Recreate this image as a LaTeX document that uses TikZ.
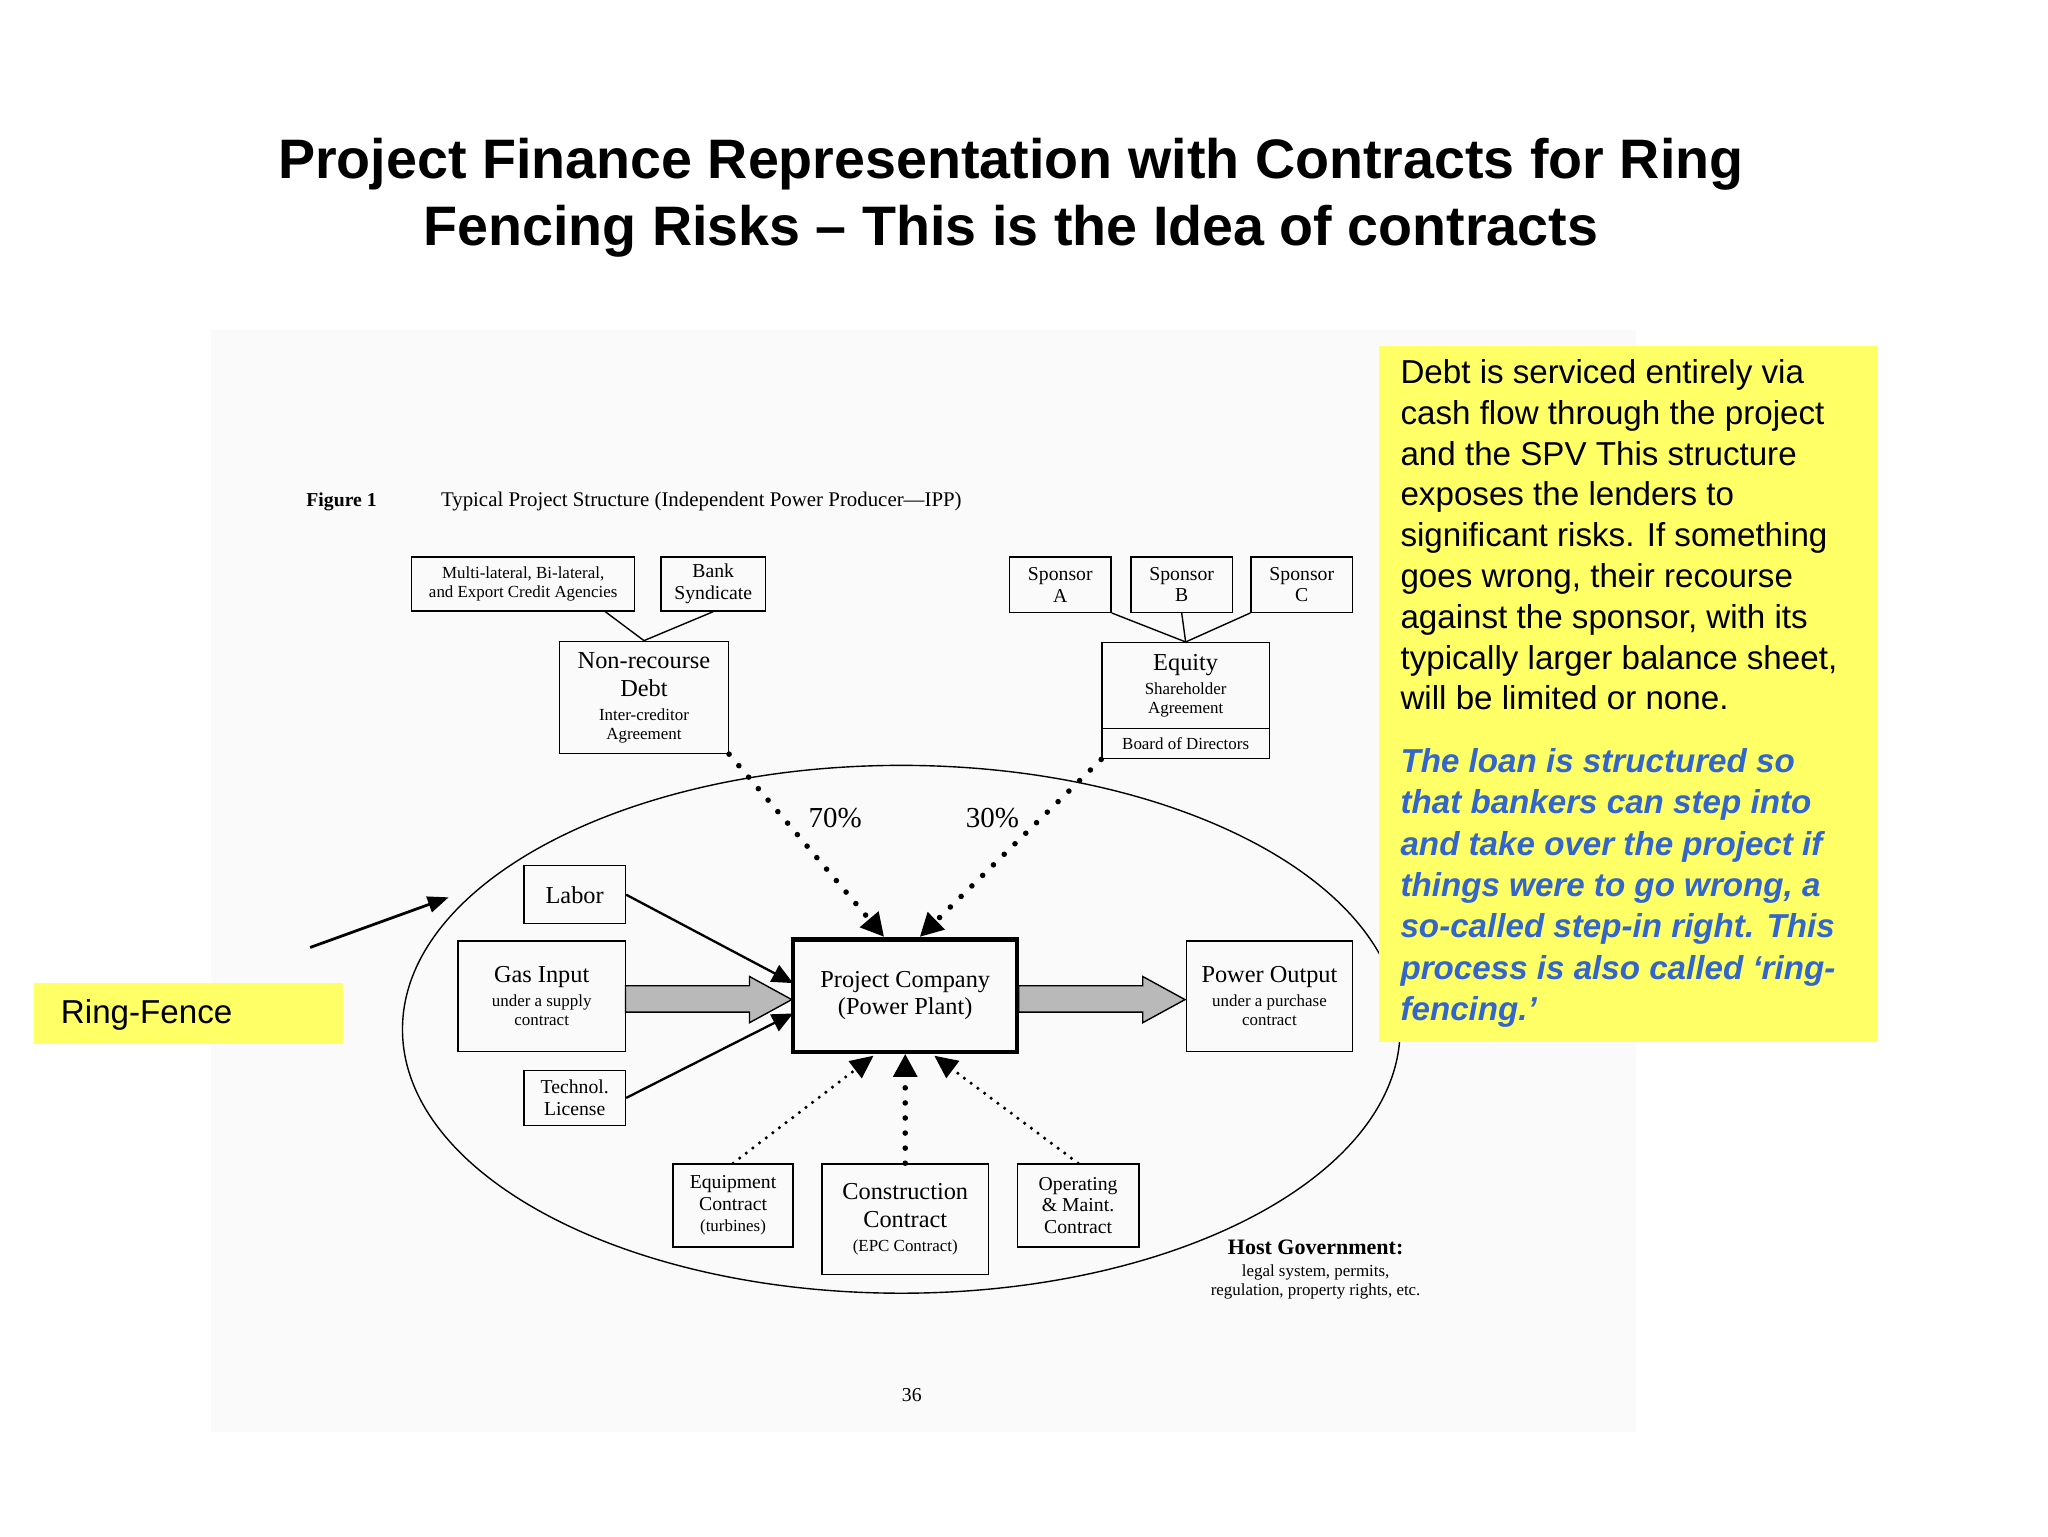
\documentclass[tikz,border=0pt]{standalone}
\usepackage{fontspec}
\setmainfont{Liberation Serif}
\newfontfamily\arialf{Liberation Sans}
\usetikzlibrary{arrows.meta,calc}
\definecolor{ylw}{HTML}{FFFF66}
\definecolor{blu}{HTML}{3366CC}
\newcommand\bigf{\fontsize{10.5}{11.5}\selectfont}
\newcommand\smf{\fontsize{7.3}{8.2}\selectfont}
\tikzset{
 bx/.style={draw,line width=0.6pt,align=center,inner sep=1pt},
 sm/.style={font=\smf},
 md/.style={font=\fontsize{8.5}{9.4}\selectfont},
 dotarr/.style={line width=2.4pt,dash pattern=on 0pt off 6.5pt,line cap=round,-{Triangle[length=10pt,width=10pt]}},
 thinarr/.style={line width=1.5pt,dash pattern=on 0pt off 3.6pt,line cap=round,-{Triangle[length=10pt,width=9pt]}},
 solarr/.style={line width=1pt,-{Triangle[length=9pt,width=8pt]}},
}
\begin{document}
\begin{tikzpicture}[x=0.02cm,y=-0.02cm]
\useasboundingbox (0,0) rectangle (1552,1164);
\fill[gray!4] (160,250) rectangle (1240,1085);
\node[font=\arialf\bfseries\fontsize{24}{29}\selectfont,align=center] (title) at (766,150) {Project Finance Representation with Contracts for Ring\\Fencing Risks – This is the Idea of contracts};
\node[anchor=west,font=\bfseries\fontsize{8.5}{10}\selectfont] (fig) at (226,380) {Figure 1};
\node[anchor=west,font=\fontsize{9}{10}\selectfont] (cap) at (328,380) {Typical Project Structure (Independent Power Producer---IPP)};
\draw[line width=0.6pt] (683,780) ellipse [x radius=378,y radius=200];
\node[bx,sm,minimum width=3.38cm,minimum height=0.82cm] (multi) at (396.5,442.5) {Multi-lateral, Bi-lateral,\\and Export Credit Agencies};
\node[bx,md,minimum width=1.58cm,minimum height=0.82cm] (bank) at (540.5,442.5) {Bank\\Syndicate};
\node[bx,sm,minimum width=2.56cm,minimum height=1.7cm] (nr) at (488,528.5) {\bigf Non-recourse\\[4pt]\bigf Debt\\[2pt]Inter-creditor\\Agreement};
\node[bx,md,minimum width=1.54cm,minimum height=0.84cm] (sa) at (803.5,443) {Sponsor\\A};
\node[bx,md,minimum width=1.54cm,minimum height=0.84cm] (sb) at (895.5,443) {Sponsor\\B};
\node[bx,md,minimum width=1.54cm,minimum height=0.84cm] (sc) at (986.5,443) {Sponsor\\C};
\node[bx,sm,minimum width=2.54cm,minimum height=1.3cm] (eq) at (898.5,519.5) {\bigf Equity\\[2pt]Shareholder\\Agreement};
\node[bx,sm,minimum width=2.54cm,minimum height=0.46cm] (board) at (898.5,563.5) {Board of Directors};
\node[bx,font=\bigf,minimum width=1.54cm,minimum height=0.88cm] (labor) at (435.5,678) {Labor};
\node[bx,sm,minimum width=2.54cm,minimum height=1.68cm] (gas) at (410.5,755) {\bigf Gas Input\\[2pt]under a supply\\contract};
\node[bx,md,minimum width=1.54cm,minimum height=0.84cm] (tech) at (435.5,832) {Technol.\\License};
\node[draw,line width=1.8pt,align=center,font=\bigf,minimum width=3.4cm,minimum height=1.7cm] (pc) at (686,754.5) {Project Company\\(Power Plant)};
\node[bx,sm,minimum width=2.52cm,minimum height=1.68cm] (po) at (962,755) {\bigf Power Output\\[2pt]under a purchase\\contract};
\node[bx,md,minimum width=1.82cm,minimum height=1.26cm] (equip) at (555.5,913.5) {Equipment\\Contract\\\smf (turbines)};
\node[bx,sm,minimum width=2.52cm,minimum height=1.68cm] (constr) at (686,924) {\bigf Construction\\[4pt]\bigf Contract\\[2pt](EPC Contract)};
\node[bx,md,minimum width=1.84cm,minimum height=1.26cm] (oper) at (817,913.5) {Operating\\\& Maint.\\Contract};
\draw[line width=0.6pt] (458,463) -- (nr.north) -- (bank.south);
\draw[line width=0.6pt] (sa.south east) -- (eq.north) -- (sb.south);
\draw[line width=0.6pt] (sc.south west) -- (eq.north);
\draw[dotarr] (nr.south east) -- (670,710);
\draw[dotarr] (board.south west) -- (697,710);
\node[font=\fontsize{12.5}{13}\selectfont] (p70) at (633,620) {70\%};
\node[font=\fontsize{12.5}{13}\selectfont] (p30) at (752,620) {30\%};
\draw[thinarr] (equip.north) -- (662,800);
\draw[dotarr] (constr.north) -- (pc.south);
\draw[thinarr] (oper.north) -- (708,800);
\draw[solarr] (labor.east) -- (601,745);
\draw[solarr] (tech.east) -- (601,768);
\draw[fill=gray!55,line width=0.6pt] (474,747) -- (568,747) -- (568,740) -- (600,757.5) -- (568,775) -- (568,767) -- (474,767) -- cycle;
\draw[fill=gray!55,line width=0.6pt] (772,747) -- (866,747) -- (866,740) -- (898,757.5) -- (866,775) -- (866,767) -- (772,767) -- cycle;
\node[align=center,font=\smf] (host) at (997,962) {\bfseries\fontsize{9.5}{10.5}\selectfont Host Government:\\[1pt]legal system, permits,\\regulation, property rights, etc.};
\node[font=\fontsize{8.5}{10}\selectfont] (pg) at (691,1057) {36};
\fill[ylw] (1045,262) rectangle (1423,790);
\node[anchor=north west,align=left,font=\arialf\fontsize{14.3}{17.6}\selectfont,inner sep=0pt] (txt) at (1061,272) {Debt is serviced entirely via\\cash flow through the project\\and the SPV This structure\\exposes the lenders to\\significant risks. If something\\goes wrong, their recourse\\against the sponsor, with its\\typically larger balance sheet,\\will be limited or none.};
\node[anchor=north west,align=left,font=\arialf\bfseries\itshape\fontsize{14.3}{17.8}\selectfont,text=blu,inner sep=0pt] (txt2) at (1061,567) {The loan is structured so\\that bankers can step into\\and take over the project if\\things were to go wrong, a\\so-called step-in right. This\\process is also called ‘ring-\\fencing.’};
\fill[ylw] (26,745) rectangle (260,791);
\node[anchor=west,font=\arialf\fontsize{14.3}{17}\selectfont] (rf) at (40,769) {Ring-Fence};
\coordinate (rfs) at (235,718);
\draw[line width=1.2pt,-{Triangle[length=9pt,width=7pt]}] (rfs) -- (340,680);
\end{tikzpicture}
\end{document}
